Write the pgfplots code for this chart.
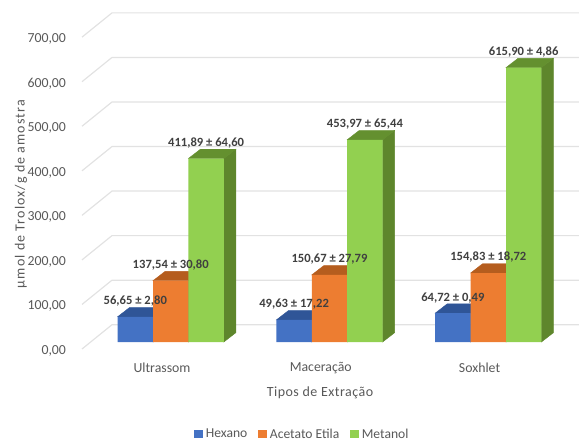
\documentclass[border=0pt]{standalone}
\usepackage{pgfplots}
\usepackage{pgfplotstable}
\usepackage{fontspec}
\setmainfont{Carlito}
\pgfplotsset{compat=1.18}

\definecolor{gridgray}{HTML}{E2E2E2}
\definecolor{textgray}{HTML}{595959}
\definecolor{labelgray}{HTML}{404040}
\definecolor{hexfront}{HTML}{4472C4}
\definecolor{hextop}{HTML}{2F5597}
\definecolor{acefront}{HTML}{ED7D31}
\definecolor{acetop}{HTML}{B55D1E}
\definecolor{metfront}{HTML}{92D050}
\definecolor{mettop}{HTML}{64902F}
\definecolor{metside}{HTML}{5E862C}

% Values per extraction method, with the text stated above each bar
\pgfplotstableread[col sep=semicolon]{
cat;hexano;acetato;metanol;hlab;alab;mlab
0;56.65;137.54;411.89;56,65 ± 2,80;137,54 ± 30,80;411,89 ± 64,60
1;49.63;150.67;453.97;49,63 ± 17,22;150,67 ± 27,79;453,97 ± 65,44
2;64.72;154.83;615.90;64,72 ± 0,49;154,83 ± 18,72;615,90 ± 4,86
}\extractiontable

\pgfdeclareplotmark{faceholder}{}

% Top and side faces of a bar, anchored at the bar's value:
% #1 horizontal bar offset, #2 top colour, #3 side colour
\pgfplotsset{
  extrude/.style n args={3}{
    only marks, forget plot, mark=faceholder, scatter, point meta=y,
    visualization depends on={rawy \as \barval},
    scatter/@pre marker code/.code={
      \pgfmathsetlengthmacro\barh{\barval*0.4455pt}
      \fill[#3] (#1+17.7pt,-\barh) -- (#1+29.7pt,-\barh+9.3pt)
             -- (#1+29.7pt,9.3pt) -- (#1+17.7pt,0pt) -- cycle;
      \fill[#2] (#1-17.7pt,0pt) -- (#1-5.7pt,9.3pt)
             -- (#1+29.7pt,9.3pt) -- (#1+17.7pt,0pt) -- cycle;
    },
    scatter/@post marker code/.code={},
  },
  front/.style n args={2}{
    ybar, bar width=35.4pt, bar shift=#1, draw=none, fill=#2,
    area legend,
    legend image code/.code={\path[draw=none,fill=#2] (0pt,-4pt) rectangle (8.5pt,4.5pt);},
  },
  barlabel/.style={
    only marks, forget plot, mark=faceholder,
    point meta=explicit symbolic, nodes near coords,
    every node near coord/.append style={
      anchor=center, yshift=15.6pt, text=labelgray,
      font=\fontsize{12.6}{14}\selectfont\bfseries, inner sep=0pt},
  },
}

\begin{document}
\begin{tikzpicture}[x=1pt,y=1pt]
\path[use as bounding box] (0,0) rectangle (579,442);
\begin{axis}[
  at={(82pt,93pt)}, anchor=south west,
  scale only axis, width=497pt, height=340pt,
  xmin=-0.5586, xmax=2.5712, ymin=-15.7, ymax=747.5,
  clip=false,
  clip mode=individual,
  axis line style={draw=none},
  major tick length=0pt,
  tick style={draw=none},
  ytick={0,100,200,300,400,500,600,700},
  xtick={-0.0547,0.945,1.945},
  xticklabels={Ultrassom,Maceração,Soxhlet},
  /pgf/number format/.cd, assume math mode=true, use comma, fixed, fixed zerofill, precision=2, 1000 sep={},
  /pgfplots/.cd,
  ticklabel style={font=\fontsize{13.8}{15}\selectfont, text=textgray},
  yticklabel style={yshift=-8.7pt, anchor=east},
  ytick pos=left, xtick pos=bottom,
  y tick label style={xshift=-12.5pt},
  x tick label style={yshift=-10pt},
  xlabel={Tipos de Extração},
  xlabel style={at={(rel axis cs:0.4789,0)}, anchor=center, yshift=-44.2pt,
    font=\fontsize{14}{15}\selectfont\addfontfeature{LetterSpace=3.4}, text=textgray},
  ylabel={µmol de Trolox/g de amostra},
  ylabel style={at={(rel axis cs:-0.1227,0.456)}, anchor=center,
    font=\fontsize{14}{15}\selectfont\addfontfeature{LetterSpace=8}, text=textgray},
  legend columns=3,
  legend style={at={(rel axis cs:0.4446,-0.2510)}, anchor=center, draw=none, fill=none,
    font=\fontsize{13.6}{15}\selectfont, text=textgray, inner sep=0pt,
    nodes={inner ysep=0pt, inner xsep=3pt},
    /tikz/every even column/.style={column sep=8pt}},
]
% Side and back wall gridlines, one for each tick value
\addplot[gridgray, line width=1.2pt, forget plot] coordinates {(-0.5586,-15.7) (-0.3697,38.8) (2.5712,38.8)};
\addplot[gridgray, line width=1.2pt, forget plot] coordinates {(-0.5586,84.3) (-0.3697,138.8) (2.5712,138.8)};
\addplot[gridgray, line width=1.2pt, forget plot] coordinates {(-0.5586,184.3) (-0.3697,238.8) (2.5712,238.8)};
\addplot[gridgray, line width=1.2pt, forget plot] coordinates {(-0.5586,284.3) (-0.3697,338.8) (2.5712,338.8)};
\addplot[gridgray, line width=1.2pt, forget plot] coordinates {(-0.5586,384.3) (-0.3697,438.8) (2.5712,438.8)};
\addplot[gridgray, line width=1.2pt, forget plot] coordinates {(-0.5586,484.3) (-0.3697,538.8) (2.5712,538.8)};
\addplot[gridgray, line width=1.2pt, forget plot] coordinates {(-0.5586,584.3) (-0.3697,638.8) (2.5712,638.8)};
\addplot[gridgray, line width=1.2pt, forget plot] coordinates {(-0.5586,684.3) (-0.3697,738.8) (2.5712,738.8)};

% Bars, drawn left to right within each group so that taller neighbours overlap
\addplot[extrude={-35.4pt}{hextop}{hextop}] table[x=cat,y=hexano]{\extractiontable};
\addplot[front={-35.4pt}{hexfront}] table[x=cat,y=hexano]{\extractiontable};
\addlegendentry{Hexano}
\addplot[extrude={0pt}{acetop}{acetop}] table[x=cat,y=acetato]{\extractiontable};
\addplot[front={0pt}{acefront}] table[x=cat,y=acetato]{\extractiontable};
\addlegendentry{Acetato Etila}
\addplot[extrude={35.4pt}{mettop}{metside}] table[x=cat,y=metanol]{\extractiontable};
\addplot[front={35.4pt}{metfront}] table[x=cat,y=metanol]{\extractiontable};
\addlegendentry{Metanol}

% Value labels on top of everything else
\addplot[barlabel] table[x expr=\thisrow{cat}-0.2229,y=hexano,meta=hlab]{\extractiontable};
\addplot[barlabel] table[x=cat,y=acetato,meta=alab]{\extractiontable};
\addplot[barlabel] table[x expr=\thisrow{cat}+0.2229,y=metanol,meta=mlab]{\extractiontable};
\end{axis}
\end{tikzpicture}
\end{document}
